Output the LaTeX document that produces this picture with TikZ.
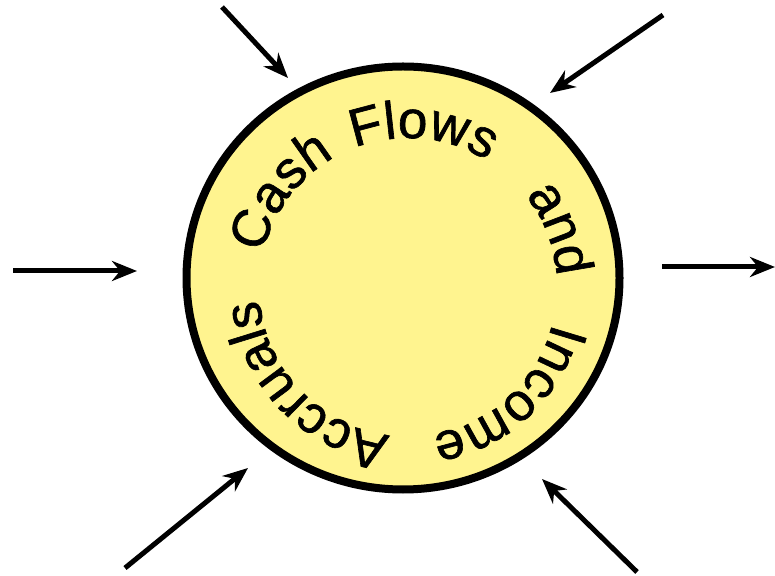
\documentclass[tikz,border=0pt]{standalone}
\usepackage{fontspec}
\setmainfont{Liberation Sans}
\newfontfamily\ringfont[FakeBold=1.2]{Liberation Sans}
\usetikzlibrary{arrows.meta,decorations.text,shapes.geometric}
\definecolor{discfill}{RGB}{255,244,143}
\newcommand\wordfont{\ringfont\fontsize{53}{53}\selectfont}
\tikzset{
  flowarrow/.style={line width=5pt,-{Stealth[length=25pt,width=20pt,inset=8pt]}},
  disc/.style={ellipse,draw=black,line width=8pt,fill=discfill,minimum width=433pt,minimum height=423pt,inner sep=0pt},
  ringword/.style={decorate,decoration={text along path,text align=left,text={|\wordfont|#1}}}
}
\begin{document}
\begin{tikzpicture}[x=1pt,y=1pt]
\useasboundingbox (0,0) rectangle (775,575);
\node[disc] (circ) at (403,297) {};
\coordinate (tc) at (408,288);
% words around the ring, clockwise
\path[ringword=Cash] (tc) ++(167:149) arc[start angle=167,end angle=90,radius=149];
\path[ringword=Flows] (tc) ++(111:149) arc[start angle=111,end angle=30,radius=149];
\path[ringword=and] (tc) ++(38:149) arc[start angle=38,end angle=-20,radius=149];
\path[ringword=Income] (tc) ++(-14:149) arc[start angle=-14,end angle=-100,radius=149];
\path[ringword=Accruals] (tc) ++(-97:149) arc[start angle=-97,end angle=-200,radius=149];
% arrows
\coordinate (a1s) at (222,568); \coordinate (a1e) at (288,497);
\coordinate (a2s) at (663,560); \coordinate (a2e) at (550,482);
\coordinate (a3s) at (13,304);  \coordinate (a3e) at (137,304);
\coordinate (a4s) at (662,308); \coordinate (a4e) at (775,308);
\coordinate (a5s) at (125,7);   \coordinate (a5e) at (248,107);
\coordinate (a6s) at (637,3);   \coordinate (a6e) at (542,96);
\draw[flowarrow] (a1s) -- (a1e);
\draw[flowarrow] (a2s) -- (a2e);
\draw[flowarrow] (a3s) -- (a3e);
\draw[flowarrow] (a4s) -- (a4e);
\draw[flowarrow] (a5s) -- (a5e);
\draw[flowarrow] (a6s) -- (a6e);
\end{tikzpicture}
\end{document}
